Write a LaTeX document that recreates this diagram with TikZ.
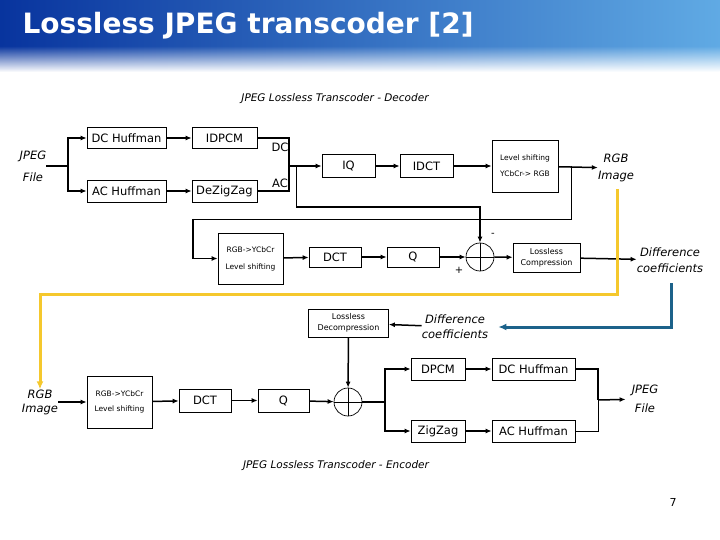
\documentclass[tikz,border=0pt]{standalone}
\usepackage{fontspec}
\setmainfont{DejaVu Sans}
\usetikzlibrary{arrows.meta,fadings}

\definecolor{titleL}{RGB}{8,52,158}
\definecolor{titleM}{RGB}{28,98,196}
\definecolor{titleR}{RGB}{96,170,228}
\definecolor{yelline}{RGB}{245,200,45}
\definecolor{bluline}{RGB}{28,98,138}

\tikzset{
  blk/.style={draw, line width=0.7pt, inner sep=0pt, align=center,
    font=\fontsize{11.5}{13}\selectfont},
  tinyblk/.style={blk, font=\fontsize{7.5}{16}\selectfont},
  lbl/.style={inner sep=0pt, align=center, font=\itshape\fontsize{11.5}{#1}\selectfont},
  lbl/.default=21,
  sumnode/.style={draw, circle, line width=0.7pt, minimum size=28pt, inner sep=0pt},
  wire/.style={line width=1.5pt},
  thinwire/.style={line width=0.8pt},
  arr/.style={wire, -{Latex[length=6pt,width=5pt]}},
  thinarr/.style={thinwire, -{Latex[length=6pt,width=5pt]}}
}

\begin{document}
\begin{tikzpicture}[x=1pt, y=-1pt]
\useasboundingbox (0,0) rectangle (720,540);
% Title bar
\shade[left color=titleL, middle color=titleM, right color=titleR] (0,0) rectangle (720,46);
\shade[left color=titleL, middle color=titleM, right color=titleR, path fading=south] (0,46) rectangle (720,72);
\node[anchor=west, text=white, font=\bfseries\fontsize{28}{28}\selectfont] (title) at (19,26) {Lossless JPEG transcoder [2]};

% Decoder caption
\node[font=\itshape\fontsize{10.5}{12}\selectfont] (deccap) at (335,99) {JPEG Lossless Transcoder - Decoder};

% Decoder blocks
\node[lbl=22] (jpegin) at (33,166) {JPEG\\File};
\node[blk, minimum width=79pt, minimum height=21pt] (dchuf) at (126.5,138) {DC Huffman};
\node[blk, minimum width=79pt, minimum height=22pt] (achuf) at (126.5,191) {AC Huffman};
\node[blk, minimum width=65pt, minimum height=21pt] (idpcm) at (224.5,138) {IDPCM};
\node[blk, minimum width=65pt, minimum height=22pt] (dezz) at (224.5,191) {DeZigZag};
\node[blk, minimum width=53pt, minimum height=23pt] (iq) at (348.5,166) {IQ};
\node[blk, minimum width=53pt, minimum height=23pt] (idct) at (426.5,166) {IDCT};
\node[tinyblk, minimum width=66pt, minimum height=52pt] (lvlout) at (525,166) {Level shifting\\YCbCr-> RGB};
\node[lbl=17] (rgbout) at (616,168) {RGB\\Image};
\node[font=\fontsize{11.5}{13}\selectfont, inner sep=0pt] (dclbl) at (280,147) {DC};
\node[font=\fontsize{11.5}{13}\selectfont, inner sep=0pt] (aclbl) at (280,183) {AC};

% Re-encoding loop
\node[tinyblk, minimum width=65pt, minimum height=51pt, font=\fontsize{7.5}{17}\selectfont] (rgbycc) at (250.5,258.5) {RGB->YCbCr\\Level shifting};
\node[blk, minimum width=52pt, minimum height=20pt] (dct1) at (335,257) {DCT};
\node[blk, minimum width=52pt, minimum height=20pt] (q1) at (413,257) {Q};
\node[sumnode] (sum1) at (480,257) {};
\node[tinyblk, minimum width=67pt, minimum height=29pt, font=\fontsize{8}{11}\selectfont] (lcomp) at (546.5,257.5) {Lossless\\Compression};
\node[lbl=16] (diff1) at (670,260) {Difference\\coefficients};
\node[inner sep=0pt, font=\fontsize{10}{12}\selectfont] (minus) at (493,235) {-};
\node[inner sep=0pt, font=\fontsize{10}{12}\selectfont] (plus) at (459,270) {+};

% Encoder blocks
\node[tinyblk, minimum width=80pt, minimum height=28pt, font=\fontsize{8}{11}\selectfont] (ldec) at (348.5,323) {Lossless\\Decompression};
\node[lbl=15] (diff2) at (455,327) {Difference\\coefficients};
\node[lbl=14] (rgbin) at (40,402) {RGB\\Image};
\node[tinyblk, minimum width=65pt, minimum height=52pt, font=\fontsize{7.5}{15}\selectfont] (rgbycc2) at (119.5,402) {RGB->YCbCr\\Level shifting};
\node[blk, minimum width=52pt, minimum height=23pt] (dct2) at (205,400.5) {DCT};
\node[blk, minimum width=51pt, minimum height=23pt] (q2) at (283.5,400.5) {Q};
\node[sumnode] (sum2) at (348,402) {};
\node[blk, minimum width=54pt, minimum height=22pt] (dpcm) at (438,369) {DPCM};
\node[blk, minimum width=54pt, minimum height=22pt] (zz) at (438,431) {ZigZag};
\node[blk, minimum width=83pt, minimum height=22pt] (dchuf2) at (533.5,369) {DC Huffman};
\node[blk, minimum width=83pt, minimum height=22pt] (achuf2) at (533.5,431) {AC Huffman};
\node[lbl=19] (jpegout) at (645,399) {JPEG\\File};

% Encoder caption and page number
\node[font=\itshape\fontsize{10.5}{12}\selectfont] (enccap) at (336,466) {JPEG Lossless Transcoder - Encoder};
\node[font=\fontsize{11}{12}\selectfont] (pagenum) at (673,502) {7};

% Branch and turn points
\coordinate (br1) at (68,166);
\coordinate (mrg) at (289,166);
\coordinate (tap2) at (296,166);
\coordinate (c207) at (296,207);
\coordinate (tap1) at (571,166);
\coordinate (fb) at (193,219);
\coordinate (yst) at (617,189);
\coordinate (ycor) at (617,294);
\coordinate (bst) at (671,283);
\coordinate (br2) at (385,402);
\coordinate (mrg2) at (598,400);

% Decoder connectors
\draw[wire] (jpegin.east) -- (br1);
\draw[arr] (br1) |- (dchuf);
\draw[arr] (br1) |- (achuf);
\draw[arr] (dchuf) -- (idpcm);
\draw[arr] (achuf) -- (dezz);
\draw[wire] (idpcm.east) -| (mrg) |- (dezz.east);
\draw[arr] (mrg) -- (iq);
\draw[arr] (iq) -- (idct);
\draw[arr] (idct) -- (lvlout);
\draw[arr] (lvlout) -- (rgbout);

% Loop connectors
\draw[thinwire] (tap2) -- (c207);
\draw[arr] (c207) -| (sum1);
\draw[thinwire] (tap1) |- (fb);
\draw[arr] (fb) |- (rgbycc);
\draw[arr] (rgbycc) -- (dct1);
\draw[arr] (dct1) -- (q1);
\draw[arr] (q1) -- (sum1);
\draw[arr] (sum1) -- (lcomp);
\draw[arr] (lcomp) -- (diff1);
\draw[thinwire] (sum1.north) -- (sum1.south) (sum1.west) -- (sum1.east);

% Coloured links between the two halves
\draw[yelline, line width=3pt, -{Latex[length=8pt,width=7pt]}] (yst) -- (ycor) -| (rgbin);
\draw[bluline, line width=3pt, -{Latex[length=8pt,width=7pt]}, shorten >=10pt] (bst) |- (diff2);

% Encoder connectors
\draw[arr] (diff2) -- (ldec);
\draw[arr] (ldec) -- (sum2);
\draw[arr] (rgbin) -- (rgbycc2);
\draw[arr] (rgbycc2) -- (dct2);
\draw[arr] (dct2) -- (q2);
\draw[arr] (q2) -- (sum2);
\draw[thinwire] (sum2.north) -- (sum2.south) (sum2.west) -- (sum2.east);
\draw[wire] (sum2) -- (br2);
\draw[arr] (br2) |- (dpcm);
\draw[arr] (br2) |- (zz);
\draw[arr] (dpcm) -- (dchuf2);
\draw[arr] (zz) -- (achuf2);
\draw[wire] (dchuf2.east) -| (mrg2);
\draw[thinwire] (mrg2) |- (achuf2.east);
\draw[arr, shorten >=6pt] (mrg2) -- (jpegout);
\end{tikzpicture}
\end{document}
